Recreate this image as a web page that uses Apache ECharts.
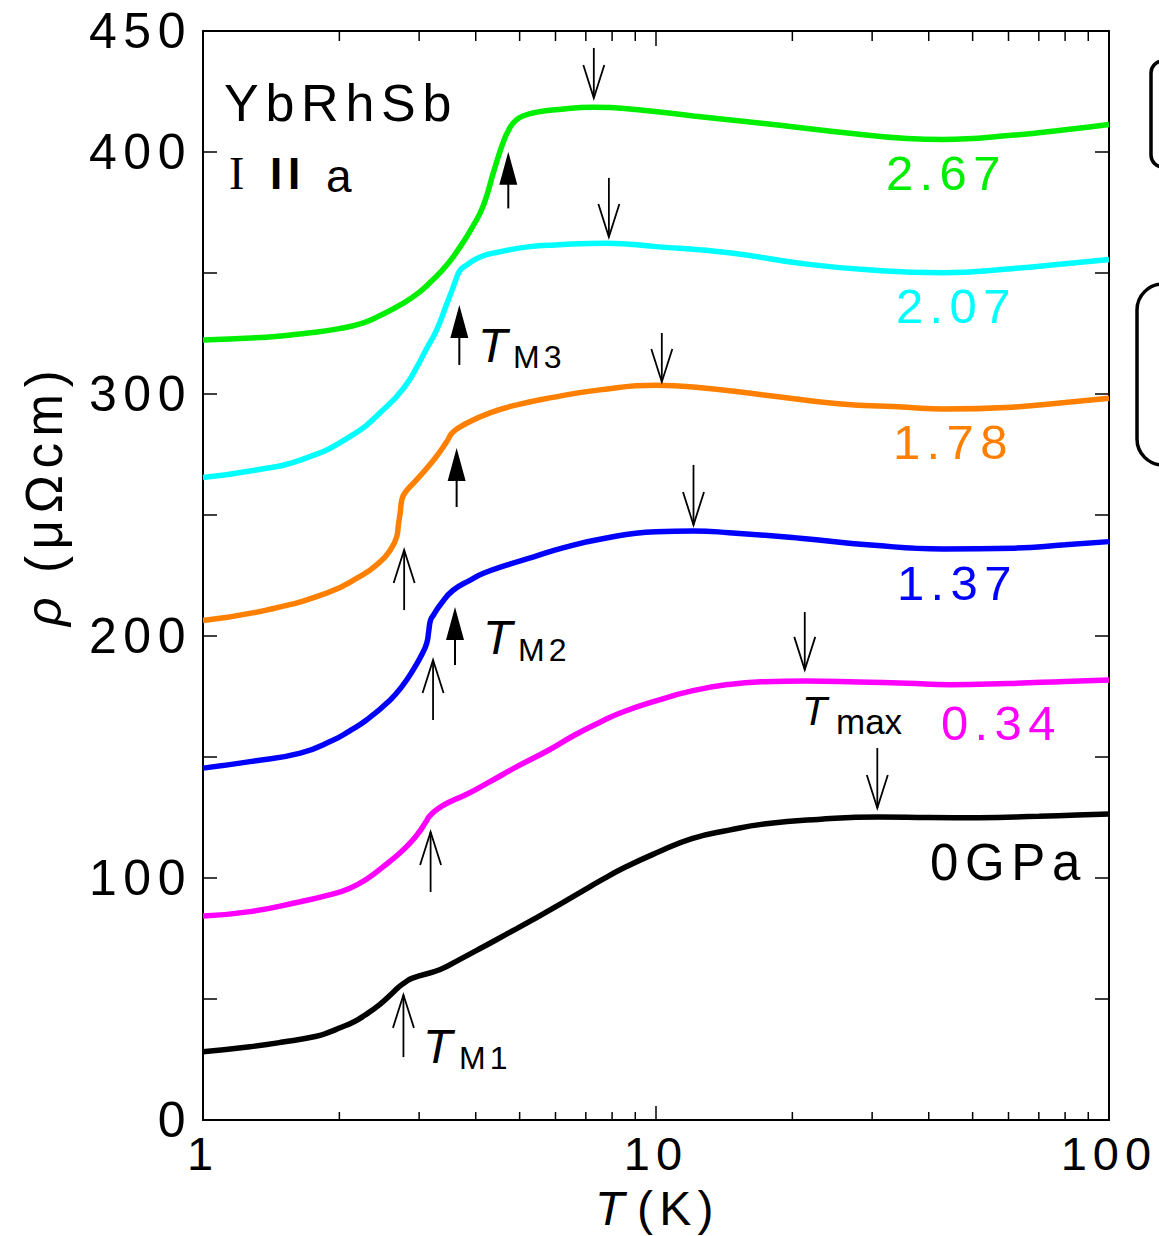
<!DOCTYPE html>
<html>
<head>
<meta charset="utf-8">
<script src="https://cdn.jsdelivr.net/npm/echarts@6/dist/echarts.min.js"></script>
<style>
  html, body { margin: 0; padding: 0; background: #fff; }
  #main { width: 1159px; height: 1236px; }
  #main text { letter-spacing: 0.13em; }
  #main text[style*="35px"] { letter-spacing: 0; }
</style>
</head>
<body>
<div id="main"></div>
<script>
// Resistivity ρ (μΩcm) versus temperature T (K) of YbRhSb, I ∥ a, at several pressures.
// Each entry is [T, ρ].
const rho0GPa = [
  [1.00, 28.2], [1.27, 30.3], [1.50, 32.2], [1.78, 34.6], [1.90, 36.3], [2.00, 38.0],
  [2.15, 40.5], [2.28, 43.4], [2.45, 47.6], [2.61, 52.2], [2.70, 54.8], [2.77, 56.4],
  [2.90, 58.6], [3.34, 62.2], [3.70, 66.5], [4.16, 71.6], [4.70, 77.0], [5.35, 82.8],
  [6.20, 89.6], [7.00, 95.4], [7.52, 98.8], [8.50, 104.2], [10.0, 110.3], [12.0, 116.3],
  [14.5, 119.8], [17.5, 122.4], [22.8, 124.2], [31.0, 125.2], [40.0, 125.0], [51.6, 124.9],
  [70.0, 125.5], [85.0, 126.0], [100, 126.4]
];
const rho034GPa = [
  [1.00, 84.3], [1.27, 86.1], [1.64, 90.2], [1.90, 93.0], [2.11, 95.8], [2.30, 99.6],
  [2.50, 104.7], [2.70, 109.8], [2.86, 114.3], [3.00, 119.0], [3.10, 123.0], [3.17, 125.8],
  [3.30, 128.6], [3.50, 131.4], [3.82, 134.6], [4.30, 139.8], [4.93, 146.0], [5.83, 153.1],
  [6.60, 159.0], [7.52, 164.4], [8.39, 168.4], [10.0, 173.2], [12.06, 177.4], [14.5, 180.0],
  [17.3, 181.1], [21.5, 181.4], [28.0, 181.0], [35.8, 180.5], [44.6, 179.9], [60.0, 180.4],
  [80.0, 181.2], [100, 181.8]
];
const rho137GPa = [
  [1.00, 145.4], [1.27, 148.1], [1.64, 151.6], [1.94, 157.0], [2.10, 160.6], [2.30, 165.4],
  [2.59, 173.6], [2.75, 179.2], [2.91, 186.0], [3.05, 192.8], [3.12, 197.2], [3.15, 202.0],
  [3.18, 206.6], [3.23, 208.8], [3.35, 213.2], [3.56, 218.8], [3.90, 223.2], [4.16, 225.9],
  [4.70, 229.4], [5.35, 232.6], [6.20, 236.3], [7.52, 240.0], [10.0, 243.1], [12.1, 243.4],
  [14.5, 242.7], [20.8, 240.4], [29.8, 237.6], [43.0, 236.0], [61.7, 236.3], [80.0, 237.7],
  [100, 239.0]
];
const rho178GPa = [
  [1.00, 206.4], [1.38, 210.7], [1.88, 217.8], [2.20, 224.2], [2.46, 230.6], [2.60, 236.0],
  [2.677, 241.0], [2.70, 246.0], [2.725, 251.0], [2.746, 256.0], [2.79, 259.1], [2.96, 264.5],
  [3.23, 272.7], [3.45, 280.2], [3.56, 284.2], [3.82, 287.9], [4.30, 292.2], [4.93, 295.5],
  [5.83, 298.4], [7.52, 301.7], [10.0, 303.6], [12.1, 302.9], [17.3, 299.6], [24.9, 296.1],
  [35.8, 294.5], [43.0, 293.8], [61.7, 294.6], [80.0, 296.5], [100, 298.2]
];
const rho207GPa = [
  [1.00, 265.5], [1.30, 268.5], [1.64, 272.7], [2.11, 282.4], [2.545, 294.8], [2.80, 303.5],
  [2.963, 311.0], [3.10, 318.0], [3.28, 326.5], [3.456, 337.5], [3.54, 342.5], [3.62, 347.5],
  [3.69, 351.0], [3.80, 353.0], [4.09, 356.6], [4.47, 358.6], [5.27, 360.9], [5.98, 361.6],
  [7.79, 362.3], [10.0, 360.9], [14.5, 358.4], [20.8, 354.0], [29.8, 351.2], [43.0, 350.1],
  [61.7, 351.9], [80.0, 353.8], [100, 355.6]
];
const rho267GPa = [
  [1.00, 322.3], [1.40, 323.6], [1.69, 325.1], [2.00, 327.0], [2.26, 329.4], [2.46, 332.4],
  [2.75, 337.2], [3.00, 342.0], [3.20, 346.8], [3.45, 353.2], [3.70, 361.0], [3.95, 369.6],
  [4.16, 378.0], [4.40, 393.0], [4.60, 404.0], [4.75, 409.8], [4.90, 413.0], [5.10, 415.0],
  [5.50, 416.6], [6.00, 417.5], [7.26, 418.5], [9.02, 417.6], [12.1, 414.9], [17.3, 411.8],
  [24.9, 408.4], [35.8, 405.6], [43.0, 405.2], [61.7, 407.0], [80.0, 409.2], [100, 411.4]
];

// Pressure labels (GPa) for the curves
const pressureLabels = ['0GPa', '0.34', '1.37', '1.78', '2.07', '2.67'];

// Arrows: [T, ρ at the tip, ρ at the tail]
const tmaxArrows = [
  [30.8, 128.9, 153.7], [21.3, 186.0, 209.9], [12.1, 245.9, 270.7],
  [10.3, 305.0, 325.2], [7.87, 364.9, 389.3], [7.29, 422.3, 443.0]
];
const lowerTransitionArrows = [
  [2.77, 51.7, 26.0], [3.18, 119.0, 94.2], [3.22, 190.1, 165.3], [2.78, 235.5, 210.7]
];
const upperTransitionArrows = [
  [3.60, 212.0, 188.0], [3.63, 277.7, 253.3], [3.68, 336.8, 312.0], [4.72, 400.1, 376.7]
];

// Axis ticks
const yLabelValues = [0, 100, 200, 300, 400, 450];
const minorT = [2, 3, 4, 5, 6, 7, 8, 9, 20, 30, 40, 50, 60, 70, 80, 90];

const FONT = "'Liberation Sans', Arial, sans-serif";
const SERIF = "'Liberation Serif', 'Times New Roman', serif";
const curves = [rho0GPa, rho034GPa, rho137GPa, rho178GPa, rho207GPa, rho267GPa];
const colors = ['#000000', '#ff00ff', '#0000ff', '#ff8000', '#00ffff', '#00ee00'];

const chart = echarts.init(document.getElementById('main'), null, { renderer: 'svg' });

const black = '#000';
const frameLine = { show: true, onZero: false, lineStyle: { color: black, width: 2 } };
const tickStyle = { color: black, width: 1.5 };
const logBase = { type: 'log', logBase: 10, min: 1, max: 100, splitLine: { show: false }, minorTick: { show: false } };

function arrowRenderer(filled) {
  return function (params, api) {
    const T = api.value(0);
    const tip = api.coord([T, api.value(1)]);
    const tail = api.coord([T, api.value(2)]);
    const dir = tail[1] > tip[1] ? 1 : -1;
    const headLen = 33;
    const half = filled ? 9 : 10.5;
    const children = [];
    if (filled) {
      children.push({ type: 'line', shape: { x1: tip[0], y1: tip[1] + dir * (headLen - 2), x2: tail[0], y2: tail[1] },
        style: { stroke: black, lineWidth: 2 } });
      children.push({ type: 'polygon', shape: { points: [[tip[0], tip[1]], [tip[0] - half, tip[1] + dir * headLen], [tip[0] + half, tip[1] + dir * headLen]] },
        style: { fill: black } });
    } else {
      children.push({ type: 'line', shape: { x1: tip[0], y1: tip[1], x2: tail[0], y2: tail[1] },
        style: { stroke: black, lineWidth: 1.8 } });
      children.push({ type: 'polyline', shape: { points: [[tip[0] - half, tip[1] + dir * headLen], [tip[0], tip[1]], [tip[0] + half, tip[1] + dir * headLen]] },
        style: { stroke: black, lineWidth: 1.8, fill: null } });
    }
    return { type: 'group', children };
  };
}

// Minor decade ticks (2–9, 20–90) on the bottom and top frame edges
function minorTickRenderer(params, api) {
  const T = api.value(0);
  const bottom = api.coord([T, 0]);
  const top = api.coord([T, 450]);
  return {
    type: 'group',
    children: [
      { type: 'line', shape: { x1: bottom[0], y1: bottom[1], x2: bottom[0], y2: bottom[1] - 8 }, style: { stroke: black, lineWidth: 1.5 } },
      { type: 'line', shape: { x1: top[0], y1: top[1], x2: top[0], y2: top[1] + 10 }, style: { stroke: black, lineWidth: 1.5 } }
    ]
  };
}

function label(x, y, text, size, color, extra, rotation) {
  return {
    type: 'text', x: x, y: y, z: 10, rotation: rotation || 0,
    style: Object.assign({ text: text, fontSize: size, fontFamily: FONT, fill: color, align: 'left', verticalAlign: 'middle' }, extra || {})
  };
}

const seriesList = curves.map((data, i) => ({
  name: pressureLabels[i],
  type: 'line',
  xAxisIndex: 0, yAxisIndex: 0,
  data: data,
  showSymbol: false,
  smooth: 0.5,
  lineStyle: { color: colors[i], width: 5.5 },
  itemStyle: { color: colors[i] },
  silent: true,
  z: 3
}));

[[tmaxArrows, false], [lowerTransitionArrows, false], [upperTransitionArrows, true]].forEach(([arr, filled]) => {
  seriesList.push({
    type: 'custom', xAxisIndex: 0, yAxisIndex: 0, data: arr, clip: false, silent: true, z: 5,
    encode: { x: 0, y: [1, 2] },
    renderItem: arrowRenderer(filled)
  });
});

seriesList.push({
  type: 'custom', xAxisIndex: 0, yAxisIndex: 0, data: minorT.map(t => [t, 0]), clip: false, silent: true, z: 6,
  encode: { x: 0, y: 1 },
  renderItem: minorTickRenderer
});

const up = Math.PI / 2;

chart.setOption({
  animation: false,
  backgroundColor: '#fff',
  grid: { left: 203, top: 31, width: 906, height: 1089, containLabel: false },
  xAxis: [
    Object.assign({}, logBase, {
      position: 'bottom', axisLine: frameLine,
      axisTick: { inside: true, length: 14, lineStyle: tickStyle },
      axisLabel: { fontSize: 47, fontFamily: FONT, color: black, margin: 10 }
    }),
    Object.assign({}, logBase, {
      position: 'top', axisLine: frameLine,
      axisTick: { inside: true, length: 15, lineStyle: tickStyle },
      axisLabel: { show: false }
    })
  ],
  yAxis: [
    {
      type: 'value', min: 0, max: 450, interval: 50, position: 'left',
      axisLine: frameLine, splitLine: { show: false },
      axisTick: { inside: true, length: 14, lineStyle: tickStyle },
      axisLabel: { fontSize: 50, fontFamily: FONT, color: black, margin: 11,
        formatter: v => (yLabelValues.indexOf(v) >= 0 ? String(v) : '') }
    },
    {
      type: 'value', min: 0, max: 450, interval: 50, position: 'right',
      axisLine: frameLine, splitLine: { show: false },
      axisTick: { inside: true, length: 14, lineStyle: tickStyle },
      axisLabel: { show: false }
    }
  ],
  series: seriesList,
  graphic: [
    // axis titles: T(K) and ρ (μΩcm)
    label(595, 1208, 'T', 48, black, { fontStyle: 'italic' }),
    label(637, 1208, '(K)', 48, black),
    label(44, 626, 'ρ', 50, black, { fontStyle: 'italic' }, up),
    label(44, 573, '(μΩcm)', 51, black, null, up),
    label(224, 103, 'YbRhSb', 52, black),
    label(229, 173, 'I', 46, black, { fontFamily: SERIF }),
    label(270, 173, 'II', 44, black, { fontWeight: 'bold' }),
    label(326, 176, 'a', 46, black),
    label(886, 173, pressureLabels[5], 49, colors[5]),
    label(896, 306, pressureLabels[4], 49, colors[4]),
    label(893, 442, pressureLabels[3], 49, colors[3]),
    label(897, 583, pressureLabels[2], 49, colors[2]),
    label(941, 723, pressureLabels[1], 49, colors[1]),
    label(930, 862, pressureLabels[0], 51, black),
    label(478, 345, 'T', 48, black, { fontStyle: 'italic' }),
    label(513, 357, 'M3', 32, black),
    label(483, 637, 'T', 48, black, { fontStyle: 'italic' }),
    label(518, 650, 'M2', 32, black),
    label(423, 1046, 'T', 48, black, { fontStyle: 'italic' }),
    label(459, 1058, 'M1', 32, black),
    label(802, 711, 'T', 41, black, { fontStyle: 'italic' }),
    label(836, 721, 'max', 35, black),
    { type: 'rect', shape: { x: 1151, y: 61, width: 60, height: 106, r: 12 },
      style: { fill: null, stroke: black, lineWidth: 3.5 } },
    { type: 'rect', shape: { x: 1137, y: 284, width: 80, height: 181, r: 26 },
      style: { fill: null, stroke: black, lineWidth: 3.5 } }
  ]
});
</script>
</body>
</html>
